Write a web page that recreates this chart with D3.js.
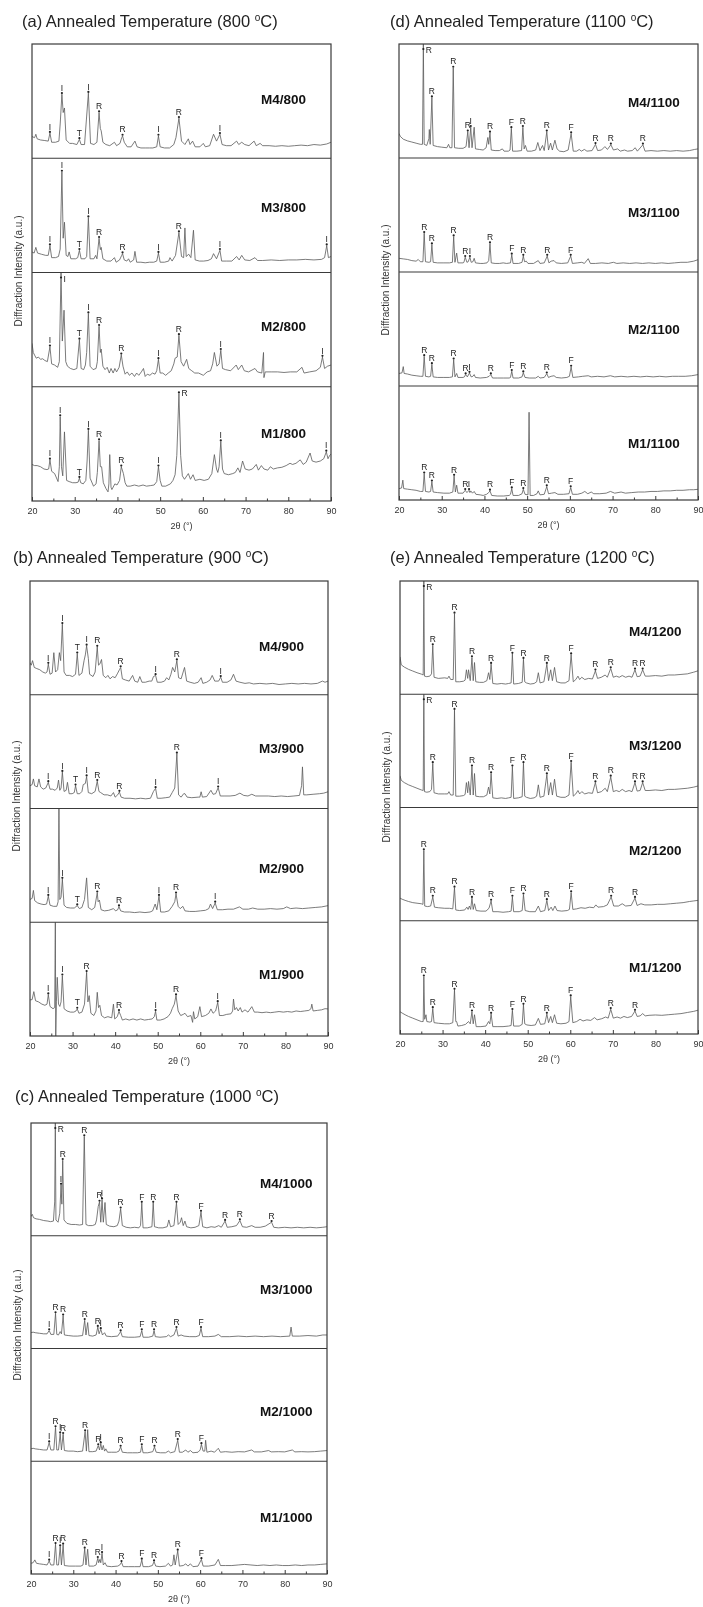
<!DOCTYPE html>
<html>
<head>
<meta charset="utf-8">
<script src="https://cdn.jsdelivr.net/npm/d3@7/dist/d3.min.js"></script>
<style>
  body { margin: 0; background: #fff; }
  svg { filter: grayscale(100%); }
  text { font-family: Arial, "Liberation Sans", sans-serif; }
</style>
</head>
<body>
<svg id="fig" width="703" height="1607"></svg>
<script>
// x axis ticks (2-theta, degrees)
var xTicks = [20, 30, 40, 50, 60, 70, 80, 90];
var xMinor = [25, 35, 45, 55, 65, 75, 85];

// ---- 800 C ----
var m4_800 = [[20,19],[20.6,18],[20.9,21],[21.2,17],[22,16],[23,15.5],[23.8,15],[24.2,22],[24.6,14],[25.5,14],[26.3,15],[26.6,30],[27.0,56],[27.3,40],[27.6,44],[28.0,16],[28.8,13],[29.5,13],[30.5,12],[31.1,16.5],[31.5,12],[32.3,12],[33.2,57],[33.7,13],[34.5,12],[35.2,14],[35.7,40],[36.0,26],[36.2,24],[36.6,14],[37.3,12],[38.2,11],[39.3,14],[39.8,11],[40.6,13],[41.0,18],[41.2,19.5],[41.6,14],[42.3,10],[43.2,10],[44.1,15],[44.6,10],[45.5,9],[46.5,9],[47.5,9],[48.3,9],[49.2,10],[49.6,19.5],[50.0,10],[51,9],[52.2,9],[53.2,12],[53.7,18],[54.4,35],[55.0,15],[55.8,12],[56.6,17],[57.0,12],[57.6,15],[58.2,10],[59.3,10],[60.1,13],[60.6,10],[61.6,11],[62.5,21],[63.2,15],[64.0,21],[64.5,12],[65.5,11],[66.6,11],[67.9,15],[68.4,12],[69.1,14],[69.8,12],[70.8,11],[72.0,15],[72.5,11],[73.4,13],[74,11],[75.5,11],[77,10.5],[78.5,11],[80,10.5],[81.5,11],[83,11.5],[84.5,11],[86,12],[87.5,11.5],[89,12.5],[90,14]];
var pk_m4_800 = [[24.2,22,"I"],[27.0,56,"I"],[31.1,16.5,"T"],[33.2,57,"I"],[35.7,40,"R"],[41.2,19.5,"R"],[49.6,19.5,"I"],[54.4,35,"R"],[64.0,21,"I"]];

var m3_800 = [[20,18],[20.5,17],[20.9,22],[21.3,17],[22.2,16],[23.2,15],[23.8,15],[24.2,23.5],[24.6,13],[25.5,13],[26.2,14],[26.6,20.5],[27.0,88],[27.3,30],[27.6,44],[28.0,15],[28.4,14],[28.7,18],[29.1,12],[30.2,12],[30.7,13],[31.1,19.5],[31.5,12],[32.4,12],[32.8,14],[33.2,48],[33.6,12],[34.5,12],[34.9,15],[35.2,12],[35.7,30],[36.0,20],[36.2,22],[36.6,12],[37.5,10],[38.5,10],[39.3,13],[39.7,9],[40.5,11],[41.0,15],[41.2,16.5],[41.6,11],[42.2,10],[42.6,12],[43.0,9],[43.8,11],[44.1,18.5],[44.5,9],[45.5,9],[46.5,8.5],[47.5,9],[48.5,9],[49.2,10],[49.6,17],[50.0,9],[51,9],[52.0,10],[52.3,13],[52.8,10],[53.6,15],[54.4,35],[55.0,14],[55.5,13],[55.8,39],[56.1,14],[56.7,16],[57.2,13],[57.8,37],[58.2,11],[59.2,10],[60.2,10],[61.2,10.5],[62.0,12],[62.5,16.5],[63.2,12],[64.0,19.5],[64.4,10],[65.5,10],[66.8,10],[67.9,14],[68.5,11],[69.1,15],[69.8,11],[71,10.5],[72.2,13],[72.8,10.5],[74,10.5],[76,11],[78,10.5],[80,11],[82,11],[84,11.5],[86,11],[87.8,11.5],[88.5,13],[89.0,23.5],[89.4,13],[90,14]];
var pk_m3_800 = [[24.2,23.5,"I"],[27.0,88,"I"],[31.1,19.5,"T"],[33.2,48,"I"],[35.7,30,"R"],[41.2,16.5,"R"],[49.6,17,"I"],[54.4,35,"R"],[64.0,19.5,"I"],[89.0,23.5,"I"]];

var m2_800 = [[20,38],[20.3,30],[20.7,27],[21,25],[21.5,26],[22,24],[22.5,24.5],[23,23],[23.6,22],[24.2,35],[24.6,20],[25.3,19],[26.0,17],[26.4,22],[26.8,100],[27.1,40],[27.5,67],[27.9,22],[28.3,18],[29,16],[29.8,15],[30.5,16],[31.1,41],[31.5,16],[32.1,15],[32.5,19],[32.8,30],[33.2,64],[33.6,18],[34.3,15],[35.0,16],[35.3,22],[35.7,53],[36.0,30],[36.2,33],[36.6,18],[37.1,15],[37.6,17],[38.1,12],[38.5,16],[39.0,12],[39.4,16],[39.8,13],[40.4,17],[40.9,28],[41.3,18],[41.8,11],[42.3,13],[42.8,10],[43.4,12],[44.0,9],[44.5,12],[45.0,10],[45.6,13],[46.1,16],[46.5,9],[47.0,11],[47.6,10],[48.2,12],[48.8,11],[49.2,14],[49.6,24],[50.0,12],[50.6,12],[51.3,10],[51.9,12],[52.6,14],[53.2,20],[53.5,25],[54.0,26],[54.4,45],[54.9,22],[55.5,18],[56.2,24],[56.7,16],[57.4,14],[58.1,12],[59,12],[60.1,10],[61,13],[61.8,14],[62.3,20],[62.7,30],[63.3,18],[63.8,20],[64.2,32],[64.6,16],[65.3,15],[66.5,14],[67.8,19],[68.3,15],[69.1,19],[69.7,14],[70.7,13],[72.2,16],[72.8,13],[73.8,12],[74.2,30],[74.3,8],[74.6,13],[76,13],[77.5,13],[79,12.5],[80.5,13],[82,13],[83.2,17],[83.7,12],[85,13],[86.5,14],[87.5,17],[88.0,26],[88.5,16],[89.2,18],[90,19]];
var pk_m2_800 = [[24.2,35,"I"],[26.8,100,"I"],[31.1,41,"T"],[33.2,64,"I"],[35.7,53,"R"],[40.9,28,"R"],[49.6,24,"I"],[54.4,45,"R"],[64.2,32,"I"],[88.0,26,"I"]];

var m1_800 = [[20,32],[20.6,31],[21.2,31],[22,30],[22.8,28],[23.5,27.5],[23.9,28],[24.2,36],[24.6,26],[25.3,24],[26.1,17],[26.4,30],[26.6,74],[26.9,30],[27.2,22],[27.6,60.5],[28.1,18],[28.7,17],[29.5,16],[30.3,16],[30.8,16.5],[31.1,20],[31.4,16],[32.0,15],[32.6,18],[32.9,35],[33.2,62],[33.6,20],[34.4,13],[35.0,15],[35.3,25],[35.7,53],[36.0,30],[36.3,30],[36.7,16],[37.3,11],[37.8,8],[38.0,15],[38.2,40.6],[38.5,12],[38.7,10],[39.4,15],[39.9,14],[40.5,18],[40.9,30],[41.4,24],[41.8,16],[42.2,13],[43,13],[44,14],[45,13],[46,14],[46.8,13],[47.8,13.5],[48.6,14],[49.2,17],[49.6,30],[50.0,18],[50.4,13],[51.3,13],[52.4,15],[53.0,18],[53.5,23],[53.9,40],[54.4,94],[54.8,40],[55.2,22],[55.7,19],[56.6,24],[57.1,19],[57.7,23],[58.2,18],[59.3,19],[60.3,18],[61.3,19],[62.1,24],[62.7,40.6],[63.2,28],[63.5,25],[63.8,30],[64.2,52],[64.6,28],[65.0,24],[66.0,23],[67.0,24],[67.6,25],[68.2,29],[68.7,25],[69.3,35],[69.9,28],[70.8,27],[71.6,28],[72.5,32],[73.0,27],[73.7,31],[74.3,28],[75.2,27],[75.8,30],[76.5,28],[77.5,29],[78.5,29.5],[79.5,31],[80.4,33],[81,32],[81.8,33],[82.8,36],[83.5,32],[84.2,34],[85.1,42],[85.6,35],[86.5,34],[87.5,35],[88.3,37],[88.9,43],[89.3,37],[89.7,40],[90,41]];
var pk_m1_800 = [[24.2,36,"I"],[26.6,74,"I"],[31.1,20,"T"],[33.2,62,"I"],[35.7,53,"R"],[40.9,30,"R"],[49.6,30,"I"],[54.4,94,"R"],[64.2,52,"I"],[88.9,43,"I"]];

// ---- 900 C ----
var m4_900 = [[20,28],[20.3,26],[20.6,30],[21.0,24],[21.6,23],[22.3,22],[23.0,20],[23.6,19],[24.0,20],[24.3,27],[24.7,18],[25.2,19],[25.6,37],[26.0,20],[26.5,22],[26.9,37],[27.2,30],[27.6,62],[28.0,20],[28.5,17],[29.3,17],[30.0,16],[30.7,18],[31.1,36],[31.5,17],[32.2,19],[32.7,30],[33.0,35],[33.3,43],[33.7,32],[34.0,18],[34.8,16],[35.3,20],[35.8,42],[36.1,26],[36.4,27],[36.8,31],[37.2,17],[37.8,15],[38.3,17],[38.8,14],[39.4,16],[40.0,15],[40.6,19],[41.0,22],[41.3,24],[41.7,14],[42.4,13],[43.3,12],[44.1,17],[44.6,12],[45.3,11],[45.8,16],[46.3,11],[47.1,11],[48.0,12],[48.6,12],[49.0,16],[49.5,17],[49.9,11],[50.8,11],[51.6,12],[52.1,15],[52.6,13],[53.1,18],[53.5,24],[54.0,20],[54.5,30],[54.9,15],[55.5,14],[56.3,24],[56.8,12],[57.6,11],[58.6,10],[59.5,11],[60.2,15],[60.6,10],[61.5,11],[62.3,13],[62.8,17],[63.4,12],[64.3,12],[64.8,15.4],[65.2,11],[66.3,11],[67.2,13],[67.8,18],[68.4,12],[69.3,11],[70.5,10],[71.5,10.5],[72.5,9.5],[74,10],[75.5,9.5],[77,10],[78.5,9],[80,9.5],[81.5,10],[83,9.5],[84.5,10],[86,9.5],[87.5,10],[88.7,12],[89.3,11],[90,12]];
var pk_m4_900 = [[24.3,27,"I"],[27.6,62,"I"],[31.1,36,"T"],[33.3,43,"I"],[35.8,42,"R"],[41.3,24,"R"],[49.5,17,"I"],[54.5,30,"R"],[64.8,15.4,"I"]];

var m3_900 = [[20,20],[20.5,21],[20.8,26],[21.1,20],[21.7,19],[22.1,26],[22.5,19],[23.1,17],[23.7,18],[24.3,23],[24.7,17],[25.3,17],[25.9,16],[26.4,18],[26.7,25],[27.0,16],[27.3,18],[27.6,32],[28.0,15],[28.5,16],[28.8,23],[29.2,13],[29.9,13],[30.4,14],[30.7,20],[31.1,13],[31.7,13],[32.2,15],[32.5,21],[33.0,22],[33.3,28],[33.7,14],[34.5,13],[35.3,15],[35.8,24],[36.2,15],[36.6,14],[37.4,12],[38.2,12],[39.0,11],[39.6,14],[40.0,10],[40.6,12],[41.0,14.5],[41.4,10],[42.2,9],[43.5,9],[44.8,8.5],[46,9],[47.2,8.5],[48.3,9],[49.0,15],[49.5,17.7],[49.9,9],[50.8,9],[51.9,9.5],[52.8,10],[53.4,14],[54.0,18],[54.5,48],[54.9,12],[55.5,10],[56.1,13],[56.4,13],[56.9,10],[58,9.5],[59.5,10],[59.9,10],[60.2,14.7],[60.5,10],[61.5,10.5],[62.5,16],[63.0,12.5],[63.6,13],[64.2,18.3],[64.7,11],[65.8,11],[67,11],[68.2,11.5],[69.3,13.5],[70.2,11.5],[71.2,11],[72.1,12.5],[73,11],[74.5,11],[76,11],[77.5,10.5],[79,11],[80.5,10.5],[82,11],[83.3,11.5],[83.8,20],[84.0,36.6],[84.3,12],[85,12],[86.5,12.5],[88,13],[89,13.5],[90,14.7]];
var pk_m3_900 = [[24.3,23,"I"],[27.6,32,"I"],[30.7,20,"T"],[33.3,28,"I"],[35.8,24,"R"],[41.0,14.5,"R"],[49.5,17.7,"I"],[54.5,48,"R"],[64.2,18.3,"I"]];

var m2_900 = [[20,20],[20.5,21],[20.8,28],[21.1,19],[21.8,17],[22.6,16],[23.3,15.5],[23.9,16],[24.3,23],[24.7,15],[25.5,14],[26.3,14],[26.6,18],[26.8,100],[27.0,20],[27.3,22],[27.6,38],[28.0,15],[28.6,13],[29.5,12.5],[30.4,12.5],[31.1,14.6],[31.6,12],[32.2,13],[32.8,20],[33.3,39],[33.7,13],[34.5,11],[35.2,13],[35.8,26],[36.0,18],[36.3,19.5],[36.7,11],[37.5,10],[38.5,10.5],[39.6,12],[40.1,10],[40.6,11],[40.9,13.7],[41.3,10],[42.2,9],[43.4,9],[44.6,8.5],[45.8,9],[47,8.5],[48.2,9],[48.8,10],[49.4,16],[49.8,11],[50.3,23],[50.7,9],[51.6,9],[52.6,10],[53.4,14],[54.0,18],[54.3,25],[54.8,14],[55.3,12],[55.9,14],[56.4,10],[57.5,9.5],[58.8,9.5],[60,10],[61.2,10.5],[62.0,12],[62.4,16],[62.9,12],[63.5,17],[64.0,11],[65.2,11],[66.5,11.5],[67.8,11.5],[69.2,13.5],[70,11.5],[71.3,11.5],[72.3,12.5],[73.5,11.5],[75,11.5],[76.5,12],[78,11.5],[79.5,12],[80.3,13.5],[81.2,12],[82.5,12.5],[84,12],[85.5,12.5],[87,13],[88.5,13.5],[90,14.6]];
var pk_m2_900 = [[24.3,23,"I"],[27.6,38,"I"],[31.1,14.6,"T"],[35.8,26,"R"],[40.9,13.7,"R"],[50.3,23,"I"],[54.3,25,"R"],[63.5,17,"I"]];

var m1_900 = [[20,31.7],[20.5,32],[20.9,39],[21.3,31],[22.0,30],[22.8,28],[23.5,27],[24.0,28],[24.3,36.4],[24.7,26],[25.4,24],[25.8,25],[25.95,100],[26.05,0],[26.2,30],[26.4,51.6],[26.7,28],[27.0,26],[27.3,30],[27.6,53],[28.0,24],[28.7,22],[29.5,21],[30.3,21],[30.8,22],[31.1,23.8],[31.5,20],[32.2,21],[32.8,28],[33.3,56],[33.6,30],[33.9,35.5],[34.3,20],[35.0,18],[35.5,22],[35.8,38.4],[36.1,25],[36.4,27],[36.8,18],[37.5,16],[38.3,17],[39.2,16],[39.6,28],[39.9,15],[40.5,17],[40.9,21.7],[41.3,18],[41.7,14],[42.5,15],[43.3,14],[44.2,15],[45.1,14],[46,15],[46.9,14],[47.8,14.5],[48.7,15],[49.2,17],[49.5,21.7],[49.8,14],[50.6,14],[51.5,15],[52.4,17],[53.0,20],[53.4,24],[53.9,28],[54.3,35.5],[54.8,22],[55.4,18],[56.0,19],[56.4,20],[57.0,17],[57.8,18],[58.2,12],[58.4,21.4],[58.7,15],[59.4,17],[59.9,25.8],[60.3,17],[61.2,18],[62.0,20],[62.5,23.8],[63.0,20],[63.6,22],[64.1,29.6],[64.5,18],[65.3,18],[66.2,19],[67.2,19.5],[67.6,22],[67.8,32.5],[68.1,23],[68.5,25],[68.9,22],[69.4,25],[69.8,21],[70.5,23],[71.2,21],[72.1,25.8],[72.7,21],[73.5,21],[74.5,20.5],[75.5,21],[76.5,20.5],[77.5,21],[78.5,21.5],[79.5,21],[80.5,21.5],[81.5,21],[82.5,22],[83.5,21.5],[84.5,22],[85.5,22.5],[86.0,24],[86.2,28],[86.5,22],[87.5,22.5],[88.5,23],[89.3,24],[90,23.8]];
var pk_m1_900 = [[24.3,36.4,"I"],[27.6,53,"I"],[31.1,23.8,"T"],[33.3,56,"R"],[40.9,21.7,"R"],[49.5,21.7,"I"],[54.3,35.5,"R"],[64.1,29.6,"I"]];

// ---- 1000 C ----
var m4_1000 = [[20,17],[20.3,19],[20.6,16],[21.2,15],[22,14.5],[23,13.5],[24,13],[24.6,12.5],[25.3,13],[25.6,30],[25.75,100],[25.9,14],[26.4,12],[26.8,20],[27.1,45],[27.3,28],[27.5,67],[27.8,14],[28.5,11],[29.5,10],[30.5,10],[31.5,9.5],[32.2,10],[32.6,88],[33.0,10],[33.6,9],[34.5,9],[35.2,10],[35.5,14],[35.9,26],[36.2,30],[36.5,12],[36.8,32],[37.1,12],[37.5,29.5],[37.8,10],[38.6,8.5],[39.6,8],[40.4,9],[40.8,13],[41.2,24],[41.6,9],[42.5,7.5],[43.5,7],[44.5,7.5],[45.5,7],[45.9,9],[46.2,29],[46.5,7],[47.5,7],[48.6,8],[48.9,29],[49.2,8],[50.2,7],[51.2,7],[52.2,8],[52.6,14],[53.0,8],[53.8,9],[54.4,29],[54.8,10],[55.3,12],[55.6,16],[56.0,9],[56.4,13],[56.8,8],[57.8,7],[58.8,7.5],[59.7,9],[60.2,21],[60.6,8],[61.6,7],[62.6,8],[63.5,7.5],[64.4,9],[65.0,7.5],[65.9,13],[66.4,7.5],[67.5,8],[68.6,9],[69.4,13.5],[70.0,8],[71,7.5],[72.2,9],[73,7.5],[74.2,7.5],[75.4,8.5],[76.9,12],[77.4,7.5],[78.5,7],[80,7.5],[81.5,7],[83,7.5],[84.5,7],[86,7.5],[87.5,7],[89,7.5],[90,8]];
var pk_m4_1000 = [[25.75,100,"R"],[27.1,45,"I"],[27.5,67,"R"],[32.6,88,"R"],[36.2,30,"R"],[36.8,32,"I"],[41.2,24,"R"],[46.2,29,"F"],[48.9,29,"R"],[54.4,29,"R"],[60.2,21,"F"],[65.9,13,"R"],[69.4,13.5,"R"],[76.9,12,"R"]];

var m3_1000 = [[20,14],[20.5,14.5],[21,14],[22,13.5],[23,13],[23.8,13],[24.3,16],[24.7,12.5],[25.4,12.5],[25.8,31],[26.1,12.5],[26.5,12],[26.9,15],[27.2,13],[27.6,29],[27.9,12],[28.8,11.5],[30,11],[31,11],[32.2,11.5],[32.7,25],[33.0,12],[33.4,23],[33.7,11.5],[34.6,11],[35.4,12],[35.8,19],[36.1,13],[36.5,17],[36.9,12],[37.4,14],[37.8,11],[39,10.5],[40.5,11],[41.2,15],[41.6,10.5],[43,10],[44.5,10],[45.8,10.5],[46.2,16],[46.5,10],[47.8,10],[48.8,11],[49.1,16],[49.4,10.5],[50.5,10],[52,10.5],[52.5,12],[53,10.5],[53.8,12],[54.4,18],[54.8,11],[55.5,12],[56.2,11],[57.5,10.5],[59,10.5],[59.8,11.5],[60.2,18],[60.6,10.5],[62,10.5],[63.5,11],[64.3,12.5],[65,10.5],[67,10.5],[69,11],[71,10.5],[73,11],[75,10.5],[77,11],[79,10.5],[81.2,11],[81.5,19],[81.8,11],[83.5,11],[85.5,11.5],[87.5,11],[89,12],[90,12]];
var pk_m3_1000 = [[24.3,16,"I"],[25.8,31,"R"],[27.6,29,"R"],[32.7,25,"R"],[35.8,19,"R"],[36.5,17,"I"],[41.2,15,"R"],[46.2,16,"F"],[49.1,16,"R"],[54.4,18,"R"],[60.2,18,"F"]];

var m2_1000 = [[20,11],[20.5,11.5],[21,11],[22,10.5],[23,10],[23.8,10],[24.3,16.5],[24.7,10],[25.4,10],[25.8,30],[26.1,10],[26.5,10],[26.9,24.5],[27.2,10],[27.6,24],[27.9,9.5],[28.8,9],[30,9],[31,8.5],[32.2,9],[32.8,26.4],[33.1,9],[33.4,28],[33.7,8.5],[34.6,8.5],[35.4,9],[35.9,14],[36.2,10],[36.5,15.6],[36.8,10],[37.1,14],[37.4,9],[37.7,11],[38.1,8],[39,8],[40.2,8],[40.8,9],[41.2,12.7],[41.6,8],[42.8,7.5],[44,7.5],[45.2,7.5],[45.9,8],[46.2,14],[46.5,7.5],[47.6,7.5],[48.8,8.5],[49.2,12.7],[49.6,8],[50.6,7.5],[51.8,7.5],[52.5,9],[53,7.5],[54.0,8.5],[54.7,18.6],[55.1,8],[55.8,8],[56.6,10],[57.1,8],[57.7,9.5],[58.3,7.5],[59.5,8],[60.0,10],[60.3,15],[60.7,9],[61.1,9],[61.3,18.6],[61.6,8],[62.6,9],[63.4,8],[64.3,11.5],[64.8,8],[66,8.5],[67.5,8],[69,8.5],[70.5,8.3],[72.2,10],[72.8,8.3],[74.5,8.3],[76.2,9.5],[76.8,8.3],[78.5,8.5],[80,8.3],[81.8,10],[82.4,8.3],[84,8.5],[85.5,8.3],[87,8.5],[88.5,9],[90,9.5]];
var pk_m2_1000 = [[24.3,16.5,"I"],[25.8,30,"R"],[26.9,24.5,"I"],[27.6,24,"R"],[32.8,26.4,"R"],[35.9,14,"R"],[36.5,15.6,"I"],[41.2,12.7,"R"],[46.2,14,"F"],[49.2,12.7,"R"],[54.7,18.6,"R"],[60.3,15,"F"]];

var m1_1000 = [[20,9.5],[20.5,10],[20.9,12.5],[21.3,9.5],[22,9],[23,8.5],[23.8,8],[24.3,11.6],[24.7,8],[25.4,8],[25.8,26.4],[26.1,8],[26.5,8],[26.9,24.3],[27.2,8],[27.6,25.8],[27.9,7.5],[29,7],[30.5,7],[31.8,7],[32.3,8],[32.7,22.3],[33.0,8],[33.4,22],[33.7,7],[34.8,7],[35.4,8],[35.8,14],[36.0,10],[36.3,13],[36.5,10],[36.8,18.4],[37.1,8],[37.5,10],[37.9,7],[39,6.5],[40.5,7],[41.0,8],[41.4,10.4],[41.8,6.5],[43,6.5],[44.5,6.5],[45.8,6.5],[46.2,12.5],[46.5,6.5],[47.8,6.5],[48.7,7.5],[49.1,11],[49.5,7],[50.5,6.5],[51.8,7],[52.5,9.5],[53.0,7],[53.5,8],[53.8,17],[54.1,8],[54.7,20.5],[55.1,7],[56.0,7.5],[56.6,9],[57.1,7],[57.7,9],[58.3,6.5],[59.5,7],[60.3,13],[60.7,7],[62,7],[63.5,8],[64.3,13],[64.8,7.5],[66,7.5],[67.5,7.5],[69,8],[70.5,8.5],[72,8],[73.5,7.5],[75,8],[76.5,7.5],[78,8],[79.5,7.5],[81,7.5],[82.5,8],[84,7.5],[85.5,8],[87,8],[88.5,8.5],[90,9]];
var pk_m1_1000 = [[24.3,11.6,"I"],[25.8,26.4,"R"],[26.9,24.3,"I"],[27.6,25.8,"R"],[32.7,22.3,"R"],[35.8,14,"R"],[36.8,18.4,"I"],[41.4,10.4,"R"],[46.2,12.5,"F"],[49.1,11,"R"],[54.7,20.5,"R"],[60.3,13,"F"]];

// ---- 1100 C ----
var m4_1100 = [[20,21.5],[20.3,19],[21,16.5],[22,15],[23,14],[24,13],[25,12],[25.5,12],[25.7,100],[25.9,12],[26.5,11],[27.0,17],[27.1,25],[27.3,12],[27.7,53],[28.0,11],[29,10],[30,9.5],[31.2,9],[31.6,12],[31.9,9],[32.4,9],[32.7,79],[33.0,9],[34,8.5],[35.0,8.5],[35.7,10],[36.1,23],[36.4,9],[36.8,27],[37.1,9],[37.6,27],[37.9,8],[38.8,7.5],[39.7,7],[40.4,9],[40.8,18],[41.0,12],[41.3,22],[41.6,7],[42.5,6.5],[43.5,6.5],[44.2,8],[44.6,6],[45.6,6],[46.0,7],[46.3,26],[46.6,6],[47.6,6],[48.7,6.5],[49.0,27],[49.3,8],[49.6,11],[50.0,6],[51,6],[52.0,7],[52.5,13.6],[53.0,6.5],[53.6,11],[54.0,6.5],[54.6,23],[55.0,7],[55.5,13],[55.9,7],[56.5,15.6],[57.0,8],[57.6,6],[58.6,5.5],[59.6,7],[60.3,21.5],[60.8,6],[61.6,6],[62.2,7.5],[62.7,6],[63.4,7.5],[64,6],[65.2,6.5],[66.0,12],[66.5,6.5],[67.4,7],[68.2,10],[68.8,7.5],[69.6,11.6],[70.2,7],[71.2,8],[71.8,6],[72.8,7],[73.5,6],[74.6,6.5],[75.3,9],[75.8,6],[77.1,11.6],[77.6,6],[79,6.5],[80.5,6],[82,6.5],[83.5,6],[85,6.5],[86.5,6],[88,6.5],[89.2,7.5],[90,8]];
var pk_m4_1100 = [[25.7,100,"R"],[27.7,53,"R"],[32.7,79,"R"],[36.1,23,"R"],[36.8,27,"I"],[41.3,22,"R"],[46.3,26,"F"],[49.0,27,"R"],[54.6,23,"R"],[60.3,21.5,"F"],[66.0,12,"R"],[69.6,11.6,"R"],[77.1,11.6,"R"]];

var m3_1100 = [[20,12],[21,11.5],[22,11],[23,10],[24,9.5],[24.5,11],[25.0,9],[25.6,9],[25.9,34],[26.2,9],[27.0,8.5],[27.4,9],[27.7,24],[28.0,8.5],[29,8],[30.5,8],[31.8,8],[32.5,8.5],[32.8,31],[33.1,8.5],[33.5,16.6],[33.8,8],[35,8],[35.2,8.5],[35.5,13],[35.9,8.5],[36.2,9],[36.6,13],[36.9,8.5],[37.3,9],[37.6,12],[37.9,8],[39,7.5],[39.7,7.5],[40.6,8],[41.0,10],[41.3,25],[41.6,8],[42.5,7.5],[43.5,7.5],[44.4,8],[45.2,7.5],[46.1,8],[46.4,15],[46.7,7.5],[48,7.5],[48.8,8.5],[49.1,14],[49.4,9],[49.8,9.5],[50.2,7.5],[51.5,7.5],[52.6,10],[53,7.5],[54.0,8],[54.7,14],[55.1,8],[55.6,9.5],[56.3,10],[56.8,8],[58,7.5],[59.5,8],[60.2,14],[60.6,7.5],[61.8,8],[62.8,8.5],[63.4,7.5],[64.3,11.7],[64.8,7.5],[66,7.5],[67.5,8],[69,7.5],[70.2,8.5],[71,7.5],[72.5,8],[74,7.5],[75.5,8],[77,7.5],[78.5,8],[80,7.5],[81.5,8],[83,7.5],[84.5,8],[86,8.5],[87.5,8.5],[89,9.5],[90,10.8]];
var pk_m3_1100 = [[25.9,34,"R"],[27.7,24,"R"],[32.8,31,"R"],[35.5,13,"R"],[36.6,13,"I"],[41.3,25,"R"],[46.4,15,"F"],[49.1,14,"R"],[54.7,14,"R"],[60.2,14,"F"]];

var m2_1100 = [[20,11],[20.7,11.5],[21.0,17],[21.2,11],[22,10.5],[23,9.5],[24,9],[25,8.5],[25.6,8.5],[25.9,26],[26.2,8.5],[27.0,8],[27.4,8.5],[27.7,19],[28.0,8],[29,7.5],[30.5,7.5],[31.8,7.5],[32.5,8],[32.8,23],[33.1,8],[33.5,11],[33.8,7.5],[35,7.5],[35.3,8],[35.6,10],[36.0,8],[36.5,11.4],[36.9,8],[37.3,8.5],[37.6,10],[37.9,7.5],[39,7],[40.5,7.5],[41.1,8.5],[41.5,10],[41.9,7],[43,7],[44.5,7],[45.8,7],[46.1,7.5],[46.4,13],[46.7,7],[48,7],[48.8,8],[49.1,11.7],[49.5,7.5],[50.5,7],[52,7],[52.6,8.5],[53,7],[54.0,7.5],[54.6,10.8],[55,7.5],[55.6,8.5],[56.3,9],[56.8,7.5],[58,7],[59.3,7.5],[59.9,8.5],[60.3,16.7],[60.7,7.5],[62,8],[63,8.5],[64.3,9],[65,8],[66.5,8.5],[68,8],[69.5,9],[70.5,8],[72,8.5],[73.5,8],[75,8.5],[76.5,8],[78,8.5],[79.5,8],[81,8.5],[82.5,8],[84,8.5],[85.5,8.5],[87,8.5],[88.5,9],[90,10]];
var pk_m2_1100 = [[25.9,26,"R"],[27.7,19,"R"],[32.8,23,"R"],[35.6,10,"R"],[36.5,11.4,"I"],[41.5,10,"R"],[46.4,13,"F"],[49.1,11.7,"R"],[54.6,10.8,"R"],[60.3,16.7,"F"]];

var m1_1100 = [[20,10],[20.6,10.5],[20.9,17.4],[21.1,10],[22,9.5],[23,9],[24,8.5],[25,7.5],[25.6,7.5],[25.9,23],[26.2,7.5],[27,7],[27.4,7.5],[27.7,16],[28.0,7],[29,6.5],[30.5,6],[31.8,6],[32.6,7],[32.9,21],[33.2,7],[33.5,13],[33.8,6],[35,6],[35.2,7],[35.5,8.5],[35.9,6.5],[36.4,8.5],[36.6,6.5],[36.8,8],[37.2,6],[37.6,7.5],[38,5],[39,4.5],[39.7,4],[40.5,5],[41.0,6.5],[41.3,8],[41.7,4],[43,3.5],[44.5,3.5],[45.8,4],[46.1,5],[46.4,10],[46.7,4],[48,4],[48.8,5.5],[49.1,9.4],[49.5,5],[50.2,4.5],[50.45,77],[50.7,4],[51.5,4],[52.3,5.5],[52.6,8],[53,4.5],[54.0,5],[54.6,11.8],[55,5.5],[55.7,6],[56.5,6.5],[57.2,5],[58.5,5],[59.8,5.5],[60.2,11],[60.6,5],[61.8,5],[62.8,6],[63.5,7.5],[64.2,5.5],[65,7],[65.6,5.5],[67,5.5],[68.5,6],[69.5,7.5],[70.5,6],[72,7],[73,6],[74.5,6.5],[76,7],[77.5,7],[79,7.5],[80.5,7.5],[82,8],[83.5,8],[85,8.5],[86.5,8.5],[88,9],[89,9],[90,9.4]];
var pk_m1_1100 = [[25.9,23,"R"],[27.7,16,"R"],[32.9,21,"R"],[35.5,8.5,"R"],[36.4,8.5,"I"],[41.3,8,"R"],[46.4,10,"F"],[49.1,9.4,"R"],[54.6,11.8,"R"],[60.2,11,"F"]];

// ---- 1200 C ----
var m4_1200 = [[20,33],[20.3,26],[21,24],[22,22],[23,20.5],[24,19],[25,17.8],[25.45,17],[25.6,100],[25.75,16],[26.3,15.5],[27.0,16],[27.4,18],[27.7,43],[28.0,15],[29,14],[30.5,14.5],[31.2,14],[31.5,16],[31.9,13],[32.5,13],[32.8,71],[33.1,11],[34,11],[34.9,11.5],[35.3,12.5],[35.6,21.6],[35.9,14],[36.1,21.6],[36.5,12],[36.9,32.5],[37.2,12],[37.5,28],[37.8,11],[38.7,10.5],[39.6,10.5],[40.4,12],[40.8,19],[41.1,13],[41.4,26.6],[41.8,9.5],[42.8,9],[43.8,9.5],[44.8,9],[45.5,9.5],[46.1,10],[46.4,35.5],[46.7,9],[47.8,9.5],[48.7,10.5],[49.0,31],[49.3,11],[49.7,10],[50.6,9],[51.5,9.5],[52.1,11],[52.5,19],[52.9,10],[53.8,11],[54.5,26.6],[54.9,12],[55.4,21.6],[55.8,12],[56.3,23.7],[56.8,11],[57.8,10],[58.8,10],[59.7,12],[60.2,35],[60.7,11],[61.3,13],[61.8,16],[62.2,13],[62.7,15],[63.4,13],[64.3,14],[65.2,13.5],[65.9,20.7],[66.4,14],[67.3,15],[68.2,17],[68.7,15],[69.5,22.8],[70.1,15],[70.8,16],[71.5,15],[72.2,16.5],[73,15],[73.8,16],[74.5,15],[75.2,21.6],[75.7,15.5],[76.4,16],[77.0,21.6],[77.6,16],[78.5,16],[80,16.5],[81.5,16],[83,17],[84.5,17],[86,17.5],[87.5,18],[89,19.5],[90,20.7]];
var pk_m4_1200 = [[25.6,100,"R"],[27.7,43,"R"],[32.8,71,"R"],[36.9,32.5,"R"],[41.4,26.6,"R"],[46.4,35.5,"F"],[49.0,31,"R"],[54.5,26.6,"R"],[60.2,35,"F"],[65.9,20.7,"R"],[69.5,22.8,"R"],[75.2,21.6,"R"],[77.0,21.6,"R"]];

var m3_1200 = [[20,28],[20.3,24],[21,22],[22,20],[23,18.5],[24,17],[25,15.5],[25.45,15],[25.6,100],[25.75,14],[26.3,13.5],[27.0,14],[27.4,16],[27.7,39],[28.0,13],[29,12],[30.5,12],[31.2,12],[31.5,14],[31.9,11],[32.5,11],[32.8,86],[33.1,10],[34,10],[34.9,10.5],[35.3,11.5],[35.6,22],[35.9,13],[36.1,23],[36.5,11],[36.9,36],[37.2,11],[37.5,30],[37.8,10],[38.7,9.5],[39.6,9.5],[40.4,11],[40.8,18],[41.1,12],[41.4,30],[41.8,8.5],[42.8,8],[43.8,8.5],[44.8,8],[45.5,8.5],[46.1,9],[46.4,36],[46.7,8],[47.8,8.5],[48.7,9.5],[49.0,39],[49.3,10],[49.7,9],[50.6,8],[51.5,8.5],[52.1,10],[52.5,20],[52.9,9],[53.8,10],[54.5,29],[54.9,11],[55.4,22],[55.8,11],[56.3,25],[56.8,10],[57.8,9],[58.8,9],[59.7,11],[60.2,40],[60.7,10],[61.3,12],[61.8,15],[62.2,12],[62.7,14],[63.4,12],[64.3,13],[65.2,12.5],[65.9,22],[66.4,13],[67.3,14],[68.2,17],[68.7,14],[69.5,27],[70.1,14],[70.8,15],[71.5,14],[72.2,16],[73,14],[73.8,15],[74.5,14],[75.2,22],[75.7,14.5],[76.4,15],[77.0,22],[77.6,15],[78.5,15],[80,15.5],[81.5,15],[83,16],[84.5,16],[86,16.5],[87.5,17],[89,18],[90,19]];
var pk_m3_1200 = [[25.6,100,"R"],[27.7,39,"R"],[32.8,86,"R"],[36.9,36,"R"],[41.4,30,"R"],[46.4,36,"F"],[49.0,39,"R"],[54.5,29,"R"],[60.2,40,"F"],[65.9,22,"R"],[69.5,27,"R"],[75.2,22,"R"],[77.0,22,"R"]];

var m2_1200 = [[20,20],[20.5,19],[21.2,18],[22,17],[23,16],[24,15.5],[25,15],[25.4,14.5],[25.6,62],[25.8,13],[26.5,12.5],[27.2,13],[27.7,21],[28.1,12],[29,11.5],[30.5,11],[31.6,11],[32.4,10.5],[32.8,29],[33.1,9.5],[34,9],[35.2,9.5],[35.7,12],[36.0,10],[36.3,13],[36.6,10],[36.9,20],[37.2,10],[37.5,15],[37.9,9],[39,8.5],[40.2,8.5],[40.9,11],[41.4,17.5],[41.8,8],[43,8],[44.2,7.5],[45.5,8],[46.1,8.5],[46.4,21],[46.7,8],[48,8],[48.7,9],[49.0,23],[49.4,9],[50.5,8],[51.8,8],[52.5,13],[53,8],[54,9],[54.5,18],[54.9,9],[55.5,12],[55.9,9],[56.4,13],[56.9,9],[58,8.5],[59.3,9],[59.8,10],[60.2,25],[60.6,10],[61.5,10.5],[62.5,11.5],[63.5,11],[64.5,12],[65.5,11.5],[66.0,14],[66.5,12],[67.8,12.5],[68.7,14],[69.6,21],[70.2,13],[71.3,13],[72.2,15],[73,13],[74.3,13.5],[75.2,20],[75.7,13.5],[76.6,15],[77.5,14],[79,14],[80.5,14.5],[82,14.5],[83.5,15],[85,15.5],[86.5,16],[88,17],[89,17.5],[90,18]];
var pk_m2_1200 = [[25.6,62,"R"],[27.7,21,"R"],[32.8,29,"R"],[36.9,20,"R"],[41.4,17.5,"R"],[46.4,21,"F"],[49.0,23,"R"],[54.5,18,"R"],[60.2,25,"F"],[69.6,21,"R"],[75.2,20,"R"]];

var m1_1200 = [[20,19.7],[20.5,18.5],[21.2,17],[22,15.5],[23,14],[24,12.5],[25,11],[25.45,11],[25.6,50.6],[25.8,13],[26.1,17],[26.3,11],[27.0,10.5],[27.4,11],[27.7,22.6],[28.0,10],[29,9.5],[30.5,9],[31.6,9],[32.4,10],[32.8,38.8],[33.1,11],[33.3,11],[33.6,7],[34.5,7.5],[35.4,8.5],[36.1,11],[36.5,9],[36.9,19.7],[37.2,9],[37.5,17],[37.9,6.5],[39,6.5],[40.2,7],[40.8,11],[41.1,9],[41.4,17.6],[41.8,6.5],[43,6.5],[44.2,6.5],[45.5,7],[46.1,7.5],[46.4,21],[46.7,7],[48,7],[48.7,8.5],[49.0,25.6],[49.3,9],[49.8,8],[50.8,7.5],[51.8,8],[52.5,13.8],[53,8.5],[54,9],[54.5,17.6],[54.9,10],[55.4,15.5],[55.8,10],[56.3,17],[56.8,9.5],[57.8,9],[59,9.5],[59.7,11],[60.1,33],[60.6,10],[61.5,11],[62.3,13],[63,11.5],[63.9,12.5],[64.8,12],[65.7,14.5],[66.3,12.5],[67.4,13.5],[68.3,15],[68.9,14],[69.5,21.8],[70.1,14],[71,15],[71.8,14],[72.6,15.5],[73.4,14.5],[74.4,15.5],[75.2,20.3],[75.7,15.5],[76.4,16],[77.0,18],[77.6,16],[78.5,16.5],[80,16.8],[81.5,16.5],[83,17],[84.5,17.5],[86,18],[87.5,19],[89,20],[90,21]];
var pk_m1_1200 = [[25.6,50.6,"R"],[27.7,22.6,"R"],[32.8,38.8,"R"],[36.9,19.7,"R"],[41.4,17.6,"R"],[46.4,21,"F"],[49.0,25.6,"R"],[54.5,17.6,"R"],[60.1,33,"F"],[69.5,21.8,"R"],[75.2,20.3,"R"]];

// panel layout (pixel boxes) + which series go in it, top to bottom
var panels = [
  {key: "a", temp: 800,  x0: 32,  x1: 331, y0: 44,   y1: 501,  tx: 22,  ty: 27,   ylabY: 271,
   labelBase: [60, 53.5, 58, 51], series: [m4_800, m3_800, m2_800, m1_800], peaks: [pk_m4_800, pk_m3_800, pk_m2_800, pk_m1_800]},
  {key: "b", temp: 900,  x0: 30,  x1: 328, y0: 581,  y1: 1036, tx: 13,  ty: 563,  ylabY: 796,
   labelBase: [70, 58, 64, 57], series: [m4_900, m3_900, m2_900, m1_900], peaks: [pk_m4_900, pk_m3_900, pk_m2_900, pk_m1_900]},
  {key: "c", temp: 1000, x0: 31,  x1: 327, y0: 1123, y1: 1574, tx: 15,  ty: 1102, ylabY: 1325,
   labelBase: [65, 58, 67.5, 61], series: [m4_1000, m3_1000, m2_1000, m1_1000], peaks: [pk_m4_1000, pk_m3_1000, pk_m2_1000, pk_m1_1000]},
  {key: "d", temp: 1100, x0: 399, x1: 698, y0: 44,   y1: 500,  tx: 390, ty: 27,   ylabY: 280,
   labelBase: [62.5, 58.5, 62, 62], series: [m4_1100, m3_1100, m2_1100, m1_1100], peaks: [pk_m4_1100, pk_m3_1100, pk_m2_1100, pk_m1_1100]},
  {key: "e", temp: 1200, x0: 400, x1: 698, y0: 581,  y1: 1034, tx: 390, ty: 563,  ylabY: 787,
   labelBase: [55, 56, 47, 51], series: [m4_1200, m3_1200, m2_1200, m1_1200], peaks: [pk_m4_1200, pk_m3_1200, pk_m2_1200, pk_m1_1200]}
];
var sampleNames = ["M4", "M3", "M2", "M1"];

var svg = d3.select("#fig");
var defs = svg.append("defs");
var ink = "#222", frameCol = "#3a3a3a", traceCol = "#5a5a5a";

function drawPanel(p) {
  var g = svg.append("g").attr("id", "panel-" + p.key);
  var x = d3.scaleLinear().domain([20, 90]).range([p.x0, p.x1]);
  var subH = (p.y1 - p.y0) / 4;

  p.series.forEach(function(data, i) {
    var top = p.y0 + i * subH;
    var y = d3.scaleLinear().domain([0, 100]).range([top + subH, top]);
    var cid = "clip-" + p.key + i;
    defs.append("clipPath").attr("id", cid)
      .append("rect").attr("x", p.x0).attr("y", top).attr("width", p.x1 - p.x0).attr("height", subH);

    var line = d3.line().x(function(d) { return x(d[0]); }).y(function(d) { return y(d[1]); });
    g.append("path")
      .datum(data)
      .attr("clip-path", "url(#" + cid + ")")
      .attr("d", line)
      .attr("fill", "none")
      .attr("stroke", traceCol)
      .attr("stroke-width", 0.8)
      .attr("stroke-linejoin", "round");

    // phase markers: dot at peak top, letter above (or beside when clipped at the top)
    var mk = g.selectAll(null).data(p.peaks[i]).enter().append("g");
    mk.append("circle")
      .attr("cx", function(d) { return x(d[0]); })
      .attr("cy", function(d) { return Math.max(y(d[1]) - 1.2, top + 5); })
      .attr("r", 1.1)
      .attr("fill", ink);
    mk.append("text")
      .attr("x", function(d) { return d[1] >= 90 ? x(d[0]) + 2.5 : x(d[0]); })
      .attr("y", function(d) { return d[1] >= 90 ? top + 9 : y(d[1]) - 3.5; })
      .attr("text-anchor", function(d) { return d[1] >= 90 ? "start" : "middle"; })
      .attr("font-size", "8.5px")
      .attr("fill", ink)
      .text(function(d) { return d[2]; });

    g.append("text")
      .attr("x", p.x0 + 229)
      .attr("y", top + p.labelBase[i])
      .attr("font-size", "13.5px")
      .attr("font-weight", "bold")
      .attr("fill", "#111")
      .text(sampleNames[i] + "/" + p.temp);
  });

  // frame and dividers
  g.append("rect")
    .attr("x", p.x0).attr("y", p.y0)
    .attr("width", p.x1 - p.x0).attr("height", p.y1 - p.y0)
    .attr("fill", "none").attr("stroke", frameCol).attr("stroke-width", 1.2);
  [1, 2, 3].forEach(function(k) {
    g.append("line")
      .attr("x1", p.x0).attr("x2", p.x1)
      .attr("y1", p.y0 + k * subH).attr("y2", p.y0 + k * subH)
      .attr("stroke", frameCol).attr("stroke-width", 1.2);
  });

  // x axis, ticks pointing inward
  var ax = g.append("g")
    .attr("transform", "translate(0," + p.y1 + ")")
    .call(d3.axisBottom(x).tickValues(xTicks).tickSize(-4).tickPadding(6.5).tickFormat(d3.format("d")));
  var axm = g.append("g")
    .attr("transform", "translate(0," + p.y1 + ")")
    .call(d3.axisBottom(x).tickValues(xMinor).tickSize(-2.5).tickFormat(""));
  ax.select(".domain").remove();
  axm.select(".domain").remove();
  ax.selectAll("line").attr("stroke", frameCol);
  axm.selectAll("line").attr("stroke", frameCol);
  ax.selectAll("text").attr("font-size", "9px").attr("fill", "#333")
    .style("font-family", "Arial, 'Liberation Sans', sans-serif");

  g.append("text")
    .attr("x", (p.x0 + p.x1) / 2).attr("y", p.y1 + 28)
    .attr("text-anchor", "middle").attr("font-size", "9px").attr("fill", "#333")
    .text("2\u03b8 (\u00b0)");

  g.append("text")
    .attr("transform", "translate(" + (p.x0 - 13) + "," + p.ylabY + ") rotate(-90)")
    .attr("text-anchor", "middle").attr("dominant-baseline", "middle")
    .attr("font-size", "10px").attr("fill", "#333")
    .text("Diffraction Intensity (a.u.)");

  // panel title
  var t = g.append("text")
    .attr("x", p.tx).attr("y", p.ty)
    .attr("font-size", "16.5px").attr("fill", ink);
  t.append("tspan").text("(" + p.key + ") Annealed Temperature (" + p.temp + " ");
  t.append("tspan").attr("font-size", "10px").attr("dy", -6).text("o");
  t.append("tspan").attr("dy", 6).text("C)");
}

panels.forEach(drawPanel);
</script>
</body>
</html>
